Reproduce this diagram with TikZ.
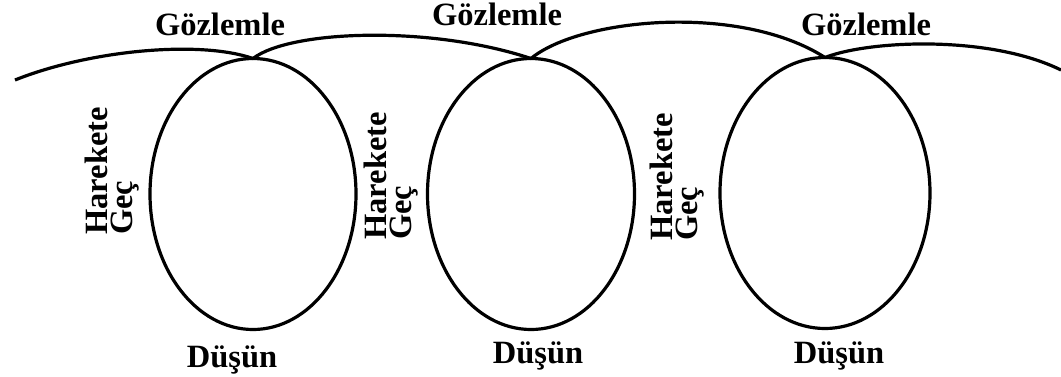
\documentclass[tikz,border=0pt]{standalone}
\usepackage{fontspec}
\setmainfont{Liberation Serif}
\usetikzlibrary{shapes.geometric}
\tikzset{
  every picture/.style={line width=3.2pt, x=1pt, y=-1pt},
  ring/.style={draw, ellipse, minimum width=#1, minimum height=271pt, inner sep=0pt, outer sep=0pt},
  ring/.default=207pt,
  phase/.style={font=\fontsize{32.5}{25}\selectfont\bfseries, inner sep=0pt},
  act/.style={phase, rotate=90, align=left},
}

\begin{document}
\begin{tikzpicture}
  \useasboundingbox (0,0) rectangle (1061,376);

  % three turns of the cycle
  \node[ring=206pt] (e1) at (253,194) {};
  \node[ring=207pt] (e2) at (531,194) {};
  \node[ring=210pt] (e3) at (825,193) {};

  \coordinate (in)  at (15,80);
  \coordinate (out) at (1061,70);

  % the arcs over the top
  \draw (in) .. controls (90,50) and (200,40) .. (e1.north);
  \draw (e1.north) .. controls (290,30) and (430,25) .. (e2.north);
  \draw (e2.north) .. controls (580,18) and (740,3) .. (e3.north);
  \draw (e3.north) .. controls (870,40) and (990,35) .. (out);

  % labels
  \node[phase, anchor=base] (g1) at (220,35) {Gözlemle};
  \node[phase, anchor=base] (g2) at (497,25) {Gözlemle};
  \node[phase, anchor=base] (g3) at (866,35) {Gözlemle};

  \node[act] (h1) at (112,171) {Harekete\\Geç};
  \node[act] (h2) at (391,176) {Harekete\\Geç};
  \node[act] (h3) at (677,177) {Harekete\\Geç};

  \node[phase, anchor=base] (d1) at (232,367) {Düşün};
  \node[phase, anchor=base] (d2) at (538,363) {Düşün};
  \node[phase, anchor=base] (d3) at (839,363) {Düşün};
\end{tikzpicture}
\end{document}
